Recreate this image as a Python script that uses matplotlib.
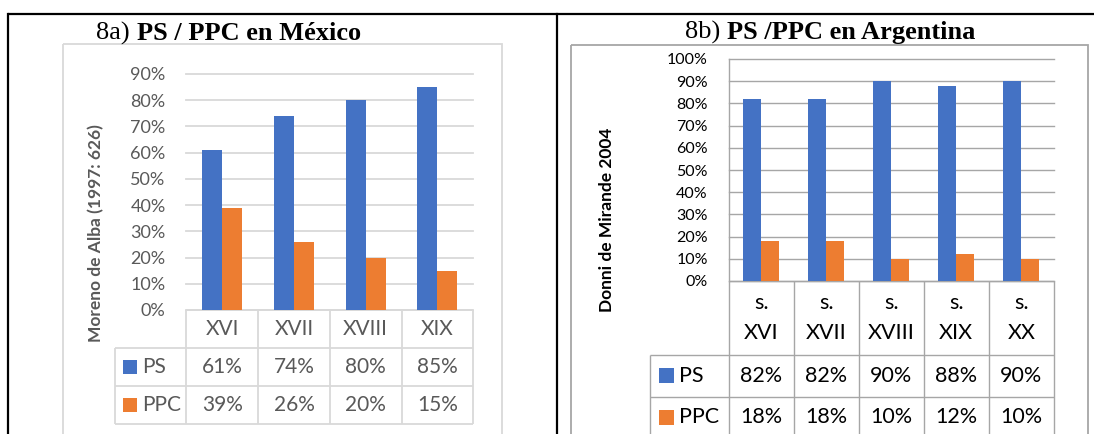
import matplotlib.pyplot as plt
from matplotlib.patches import Rectangle
from matplotlib.ticker import PercentFormatter
from matplotlib.transforms import blended_transform_factory

# México - Moreno de Alba (1997: 626)
mx_siglos = ["XVI", "XVII", "XVIII", "XIX"]
mx_ps = [61, 74, 80, 85]
mx_ppc = [39, 26, 20, 15]

# Argentina - Donni de Mirande 2004
ar_siglos = ["XVI", "XVII", "XVIII", "XIX", "XX"]
ar_ps = [82, 82, 90, 88, 90]
ar_ppc = [18, 18, 10, 12, 10]

AZUL = "#4472C4"
NARANJA = "#ED7D31"

W, H = 1094, 434
plt.rcParams["font.family"] = ["Lato", "DejaVu Sans"]

fig = plt.figure(figsize=(W / 100, H / 100), dpi=100, facecolor="white")

# full-figure layer in pixel units for frames, boxes, tables and titles
canvas = fig.add_axes([0, 0, 1, 1])
canvas.set_xlim(0, W)
canvas.set_ylim(H, 0)
canvas.axis("off")


def titulo(x, y, prefijo, texto):
    t = canvas.text(x, y, prefijo, family="Liberation Serif", fontsize=19, va="baseline")
    canvas.annotate(texto, xy=(1, 0), xycoords=t, ha="left", va="bottom",
                    family="Liberation Serif", fontsize=19, fontweight="bold")


def panel(siglos, ps, ppc, ymax, x0, x1, y_top, y_zero, filas, tabla_x, cuadro_x, cuadro,
          etiqueta, etiqueta_xy, color_txt, color_lin, tick_size, tab_size, lado, encabezado=None):
    ax = fig.add_axes([x0 / W, 1 - y_zero / H, (x1 - x0) / W, (y_zero - y_top) / H])
    ax.patch.set_alpha(0)
    n = len(siglos)
    pos = list(range(n))
    ancho = 0.28
    ax.bar([p - ancho / 2 for p in pos], ps, ancho, color=AZUL, zorder=2)
    ax.bar([p + ancho / 2 for p in pos], ppc, ancho, color=NARANJA, zorder=2)
    ax.set_xlim(-0.5, n - 0.5)
    ax.set_ylim(0, ymax)
    ticks = list(range(0, ymax + 1, 10))
    ax.set_yticks(ticks)
    ax.yaxis.set_major_formatter(PercentFormatter(decimals=0))
    ax.set_xticks([])
    ax.tick_params(axis="y", length=0, pad=15, labelsize=tick_size, labelcolor=color_txt)
    for v in ticks:
        ax.axhline(v, color=color_lin[0], lw=color_lin[1], zorder=0, clip_on=False)
    for s in ax.spines.values():
        s.set_visible(False)
    if lado:
        ax.spines["left"].set_visible(True)
        ax.spines["left"].set_color(color_lin[0])
        ax.spines["left"].set_linewidth(color_lin[1])

    # data table under the axis
    bt = blended_transform_factory(ax.transData, canvas.transData)
    kw = dict(color=color_lin[0], lw=color_lin[1], solid_capstyle="butt")
    for i in range(n + 1):
        canvas.plot([i - 0.5, i - 0.5], [y_zero, filas[-1]], transform=bt, **kw)
    canvas.plot([tabla_x, tabla_x], [filas[0], filas[-1]], **kw)
    for yf in filas:
        canvas.plot([tabla_x, x1], [yf, yf], **kw)
    canvas.plot([x0, x1], [y_zero, y_zero], **kw)

    y_cab = (y_zero + filas[0]) / 2
    for i, s in enumerate(siglos):
        if encabezado:
            canvas.text(i, y_cab - 15, encabezado, transform=bt, ha="center", va="center",
                        fontsize=tab_size, color=color_txt)
            canvas.text(i, y_cab + 15, s, transform=bt, ha="center", va="center",
                        fontsize=tab_size, color=color_txt)
        else:
            canvas.text(i, y_cab, s, transform=bt, ha="center", va="center",
                        fontsize=tab_size, color=color_txt)

    for k, (nombre, vals, col) in enumerate([("PS", ps, AZUL), ("PPC", ppc, NARANJA)]):
        yc = (filas[k] + filas[k + 1]) / 2
        canvas.add_patch(Rectangle((cuadro_x, yc - cuadro / 2), cuadro, cuadro, color=col, lw=0))
        canvas.text(cuadro_x + cuadro + 5, yc, nombre, ha="left", va="center",
                    fontsize=tab_size, color=color_txt)
        for i, v in enumerate(vals):
            canvas.text(i, yc, f"{v}%", transform=bt, ha="center", va="center",
                        fontsize=tab_size, color=color_txt)

    canvas.text(*etiqueta_xy, etiqueta, rotation=90, ha="center", va="center",
                fontsize=12.5, fontweight="bold", color=color_txt)
    return ax


# outer frame
canvas.plot([8, W], [13.5, 13.5], color="black", lw=1.6, solid_capstyle="butt")
canvas.plot([8.3, 8.3], [13.5, H], color="black", lw=1.6)
canvas.plot([556.7, 556.7], [13.5, H], color="black", lw=1.6)

# chart boxes
canvas.add_patch(Rectangle((62.5, 44), 439.5, 420, fill=False, ec="#d9d9d9", lw=1.3))
canvas.add_patch(Rectangle((570.8, 45), 517.2, 420, fill=False, ec="#a6a6a6", lw=1.3))

titulo(96.4, 39.3, "8a) ", "PS / PPC en México")
titulo(685, 39, "8b) ", "PS /PPC en Argentina")

panel(mx_siglos, mx_ps, mx_ppc, 90, 186.4, 473.2, 74, 310, [348.3, 385.7, 424], 115, 123, 14,
      "Moreno de Alba (1997: 626)", (95.7, 233), "#595959", ("#d9d9d9", 1.3), 13, 15, False)
panel(ar_siglos, ar_ps, ar_ppc, 100, 728.7, 1053.8, 59, 281, [355, 396.7, 438], 649.6, 659, 15,
      "Donni de Mirande 2004", (607, 220), "black", ("#a6a6a6", 1.0), 11.5, 15.5, True, encabezado="s.")

fig.savefig("out.png", dpi=100, facecolor="white")
